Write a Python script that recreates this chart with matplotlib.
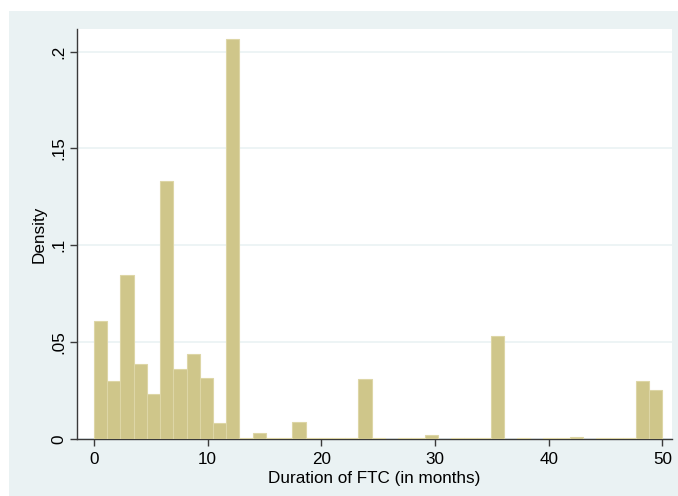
import numpy as np
import matplotlib
matplotlib.use("Agg")
import matplotlib.pyplot as plt
from matplotlib.patches import Rectangle

plt.rcParams['font.family'] = ['Liberation Sans', 'DejaVu Sans']

# histogram: 43 bins over 0-50 months, densities
n_bins = 43
x_min, x_max = 0, 50
density = [0.0609, 0.0298, 0.0847, 0.0389, 0.0234, 0.1332, 0.0363, 0.0437, 0.0317, 0.0083,
           0.2064, 0.0006, 0.0029, 0.0006, 0.0006, 0.0086, 0.0006, 0.0006, 0.0006, 0.0006,
           0.0310, 0.0006, 0.0, 0.0006, 0.0006, 0.0022, 0.0, 0.0006, 0.0006, 0.0006,
           0.0532, 0.0, 0.0006, 0.0, 0.0006, 0.0006, 0.0012, 0.0, 0.0006, 0.0006,
           0.0006, 0.0302, 0.0254]
x_ticks = [0, 10, 20, 30, 40, 50]
y_ticks = [0, 0.05, 0.1, 0.15, 0.2]
y_ticklabels = ['0', '.05', '.1', '.15', '.2']

edges = np.linspace(x_min, x_max, n_bins + 1)
width = edges[1] - edges[0]

bg = '#EAF2F3'
fig = plt.figure(figsize=(6.78, 4.96), dpi=100, facecolor='white')
fig.patches.append(Rectangle((9 / 678, 0), 1, 485 / 496, transform=fig.transFigure,
                             facecolor=bg, edgecolor='none', zorder=-10))

ax = fig.add_axes([77 / 678, 57 / 496, 595 / 678, 410 / 496])
ax.set_facecolor('white')
ax.bar(edges[:-1], density, width=width, align='edge', color='#CFC68A',
       edgecolor='#DDD6A6', linewidth=0.8, zorder=3)

ax.set_xlim(-1.5, 50.84)
ax.set_ylim(0, 0.2117)
ax.set_xticks(x_ticks)
ax.set_yticks(y_ticks)
ax.set_yticklabels(y_ticklabels, rotation=90, va='center')
ax.grid(axis='y', color=bg, linewidth=1.2, zorder=0)
ax.set_axisbelow(True)

for s in ['top', 'right']:
    ax.spines[s].set_visible(False)
for s in ['left', 'bottom']:
    ax.spines[s].set_color('#3a3a3a')
    ax.spines[s].set_linewidth(1.0)
ax.tick_params(axis='both', direction='out', length=5, width=1, color='#3a3a3a',
               labelsize=12.3, labelcolor='black')
ax.tick_params(axis='x', pad=4)
ax.tick_params(axis='y', pad=3)

ax.set_xlabel('Duration of FTC (in months)', fontsize=12.3, labelpad=3)
ax.set_ylabel('Density', fontsize=12.3, labelpad=3)

fig.savefig('out.png', dpi=100, facecolor=fig.get_facecolor())
